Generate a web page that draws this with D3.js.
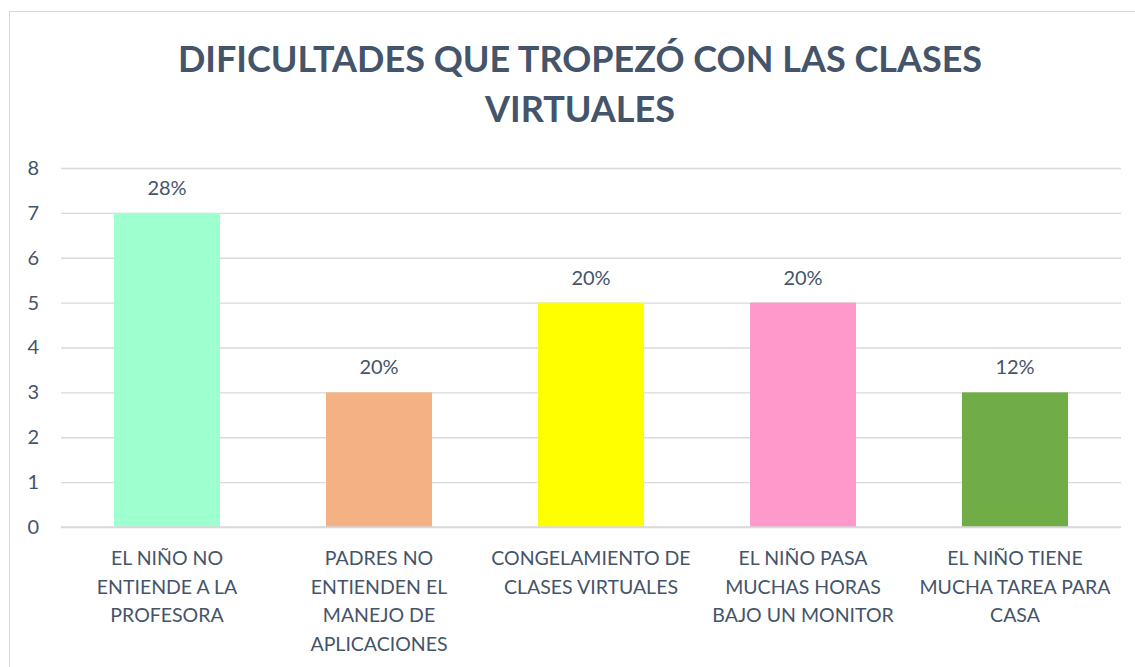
<!DOCTYPE html>
<html lang="es">
<head>
    <meta charset="UTF-8">
    <title>Dificultades clases virtuales</title>
    <style>
        body {
            margin: 0;
            background-color: white;
            font-family: Lato, "Open Sans", sans-serif;
        }
        svg {
            display: block;
        }
    </style>
    <script src="https://d3js.org/d3.v7.min.js"></script>
</head>
<body>
    <svg id="chart" width="1135" height="667"></svg>

    <script>
        // data
        const categories = [
            "EL NIÑO NO\nENTIENDE A LA\nPROFESORA",
            "PADRES NO\nENTIENDEN EL\nMANEJO DE\nAPLICACIONES",
            "CONGELAMIENTO DE\nCLASES VIRTUALES",
            "EL NIÑO PASA\nMUCHAS HORAS\nBAJO UN MONITOR",
            "EL NIÑO TIENE\nMUCHA TAREA PARA\nCASA"
        ];
        const values = [7, 3, 5, 5, 3];
        const percentLabels = ["28%", "20%", "20%", "20%", "12%"];
        const barColors = ["#9effcf", "#f4b183", "#ffff00", "#ff99cc", "#70ad47"];
        const yTicks = [0, 1, 2, 3, 4, 5, 6, 7, 8];
        const titleLines = ["DIFICULTADES QUE TROPEZÓ CON LAS CLASES", "VIRTUALES"];

        const textColor = "#44546a";
        const gridColor = "#d9d9d9";

        const svg = d3.select("#chart");

        // chart frame (runs past the right and bottom edges)
        svg.append("rect")
            .attr("x", 9.5)
            .attr("y", 11.5)
            .attr("width", 1200)
            .attr("height", 700)
            .attr("fill", "white")
            .attr("stroke", gridColor)
            .attr("stroke-width", 1);

        const title = svg.append("text")
            .attr("text-anchor", "middle")
            .attr("fill", textColor)
            .attr("font-weight", "bold")
            .attr("font-size", "36px");

        title.selectAll("tspan")
            .data(titleLines)
            .enter().append("tspan")
            .attr("x", 580)
            .attr("y", (d, i) => 72 + i * 50)
            .text(d => d);

        const plot = { left: 61, right: 1121, top: 168, bottom: 527 };

        const x = d3.scaleBand()
            .domain(d3.range(categories.length))
            .range([plot.left, plot.right])
            .paddingInner(0.5)
            .paddingOuter(0.25);

        const y = d3.scaleLinear()
            .domain([0, 8])
            .range([plot.bottom, plot.top]);

        // gridlines
        svg.append("g")
            .attr("transform", `translate(${plot.left},0)`)
            .call(d3.axisLeft(y)
                .tickValues(yTicks)
                .tickSize(-(plot.right - plot.left))
                .tickFormat(""))
            .call(g => g.select(".domain").remove())
            .call(g => g.selectAll(".tick line")
                .attr("stroke", gridColor)
                .attr("stroke-width", 1.3));

        // y tick labels
        svg.append("g")
            .attr("transform", "translate(39,0)")
            .call(d3.axisLeft(y)
                .tickValues(yTicks)
                .tickSize(0)
                .tickPadding(0)
                .tickFormat(d3.format("d")))
            .call(g => g.select(".domain").remove())
            .call(g => g.selectAll(".tick text")
                .attr("fill", textColor)
                .attr("font-family", "Lato, sans-serif")
                .attr("font-size", "20px"));

        // bars
        svg.append("g")
            .selectAll("rect")
            .data(values)
            .enter().append("rect")
            .attr("x", (d, i) => x(i))
            .attr("y", d => y(d))
            .attr("width", x.bandwidth())
            .attr("height", d => y(0) - y(d))
            .attr("fill", (d, i) => barColors[i]);

        // baseline
        svg.append("line")
            .attr("x1", plot.left)
            .attr("x2", plot.right)
            .attr("y1", y(0))
            .attr("y2", y(0))
            .attr("stroke", gridColor)
            .attr("stroke-width", 1.3);

        // value labels
        svg.append("g")
            .selectAll("text")
            .data(values)
            .enter().append("text")
            .attr("x", (d, i) => x(i) + x.bandwidth() / 2)
            .attr("y", d => y(d) - 18)
            .attr("text-anchor", "middle")
            .attr("fill", textColor)
            .attr("font-size", "20px")
            .text((d, i) => percentLabels[i]);

        // category labels
        const catText = svg.append("g")
            .selectAll("text")
            .data(categories)
            .enter().append("text")
            .attr("text-anchor", "middle")
            .attr("fill", textColor)
            .attr("font-size", "19.5px");

        catText.each(function (d, i) {
            const cx = x(i) + x.bandwidth() / 2;
            d3.select(this).selectAll("tspan")
                .data(d.split("\n"))
                .enter().append("tspan")
                .attr("x", cx)
                .attr("y", (line, j) => plot.bottom + 38 + j * 28.7)
                .text(line => line);
        });
    </script>
</body>
</html>
